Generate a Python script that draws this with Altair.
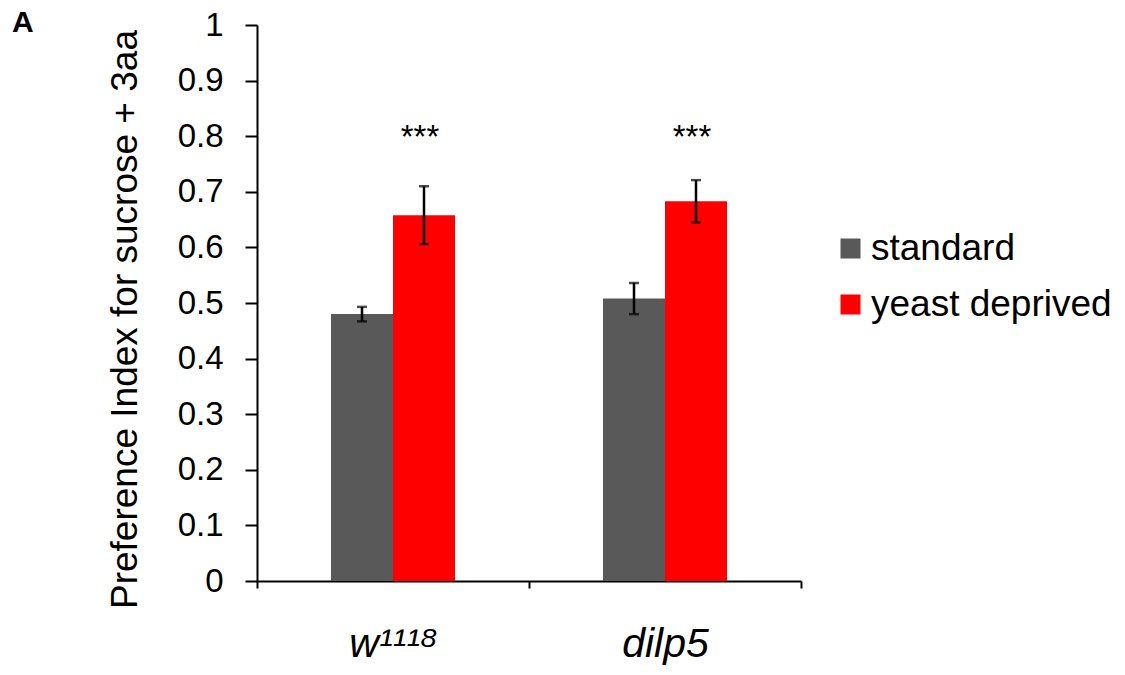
import altair as alt
import pandas as pd

groups = ["w¹¹¹⁸", "dilp5"]
conditions = ["standard", "yeast deprived"]
means = [0.480, 0.658, 0.508, 0.683]
errors = [0.013, 0.052, 0.028, 0.038]
sig_labels = ["***", "***"]
sig_level = 0.775
colors = ["#595959", "#FF0000"]

rows = []
i = 0
for g in groups:
    for c in conditions:
        rows.append({"group": g, "condition": c, "mean": means[i],
                     "lo": means[i] - errors[i], "hi": means[i] + errors[i]})
        i += 1
df = pd.DataFrame(rows)
sig_df = pd.DataFrame({"group": groups, "condition": ["yeast deprived"] * 2,
                       "label": sig_labels, "y": [sig_level] * 2})

FONT = "Liberation Sans"
W, H = 544, 556
BAND = W / len(groups)
BAR = 62

x_enc = alt.X("group:N", sort=groups,
              scale=alt.Scale(paddingInner=0, paddingOuter=0),
              axis=alt.Axis(title=None, labelAngle=0, labelFontSize=41,
                            labelFontStyle="italic", labelFont=FONT,
                            labelColor="black", labelPadding=36,
                            tickBand="extent", tickSize=7, tickWidth=2,
                            tickColor="black", domainColor="black",
                            domainWidth=2))
xoff = alt.XOffset("condition:N", sort=conditions,
                   scale=alt.Scale(paddingInner=0, paddingOuter=0,
                                   range=[BAND / 2 - BAR, BAND / 2 + BAR]))

y_scale = alt.Scale(domain=[0, 1], nice=False)

bars = alt.Chart(df).mark_bar().encode(
    x=x_enc,
    xOffset=xoff,
    y=alt.Y("mean:Q", scale=y_scale,
            axis=alt.Axis(title="Preference Index for sucrose + 3aa",
                          titleFontSize=37, titleFont=FONT,
                          titleFontWeight="normal", titleColor="black",
                          titlePadding=33, titleY=H / 2 + 16,
                          values=[round(v * 0.1, 1) for v in range(11)],
                          format=".1~f", labelFontSize=33, labelFont=FONT,
                          labelColor="black", labelPadding=22,
                          tickSize=12, tickWidth=2, tickColor="black",
                          domainColor="black", domainWidth=2, grid=False)),
    color=alt.Color("condition:N", sort=conditions,
                    scale=alt.Scale(domain=conditions, range=colors),
                    legend=alt.Legend(title=None, orient="none",
                                      legendX=575, legendY=205,
                                      symbolType="square", symbolSize=400,
                                      symbolStrokeWidth=0, labelFontSize=37,
                                      labelFont=FONT, labelColor="black",
                                      labelOffset=2, rowPadding=18,
                                      labelLimit=400)),
)

err_rule = alt.Chart(df).mark_rule(color="black", strokeWidth=2.5).encode(
    x=alt.X("group:N", sort=groups), xOffset=xoff,
    y=alt.Y("lo:Q", scale=y_scale), y2="hi:Q")

cap_lo = alt.Chart(df).mark_tick(color="black", thickness=2.5, size=10,
                                 orient="horizontal").encode(
    x=alt.X("group:N", sort=groups), xOffset=xoff,
    y=alt.Y("lo:Q", scale=y_scale))
cap_hi = alt.Chart(df).mark_tick(color="black", thickness=2.5, size=10,
                                 orient="horizontal").encode(
    x=alt.X("group:N", sort=groups), xOffset=xoff,
    y=alt.Y("hi:Q", scale=y_scale))

sig = alt.Chart(sig_df).mark_text(fontSize=33, font=FONT, color="black",
                                  baseline="alphabetic", dx=-4, dy=-2).encode(
    x=alt.X("group:N", sort=groups), xOffset=xoff,
    y=alt.Y("y:Q", scale=y_scale), text="label:N")

chart = alt.layer(bars, err_rule, cap_lo, cap_hi, sig).properties(
    width=W, height=H,
    title=alt.TitleParams("A", anchor="start", frame="group", dx=-245,
                          dy=29, offset=0, fontSize=30, font=FONT,
                          fontWeight="bold", color="black"),
    autosize=alt.AutoSizeParams(type="none"),
    padding={"left": 249, "top": 17, "right": 316, "bottom": 90},
    background="white",
).configure_view(stroke=None)

chart.save("out.html", embed_options={"renderer": "svg", "actions": False})
